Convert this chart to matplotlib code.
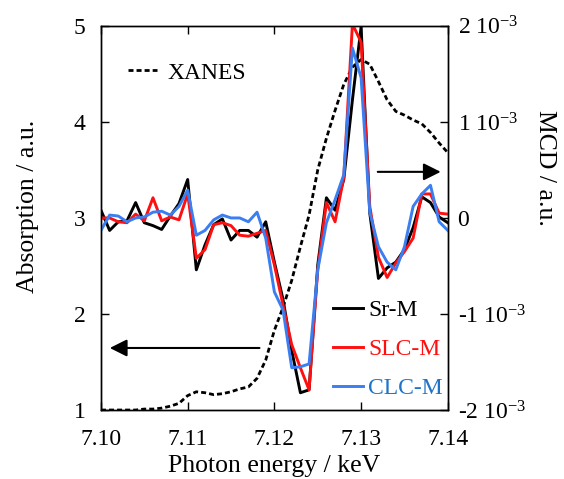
"""XANES and MCD spectra of Sr-M, SLC-M and CLC-M around the K edge."""

import matplotlib

matplotlib.use("Agg")

import matplotlib.pyplot as plt
import numpy as np

plt.rcParams["font.family"] = ["Liberation Serif", "DejaVu Serif"]
plt.rcParams["mathtext.fontset"] = "custom"
plt.rcParams["mathtext.rm"] = "Liberation Serif"
plt.rcParams["mathtext.it"] = "Liberation Serif:italic"

# photon energy, 1 eV steps (keV)
energy = np.round(np.arange(7.100, 7.1405, 0.001), 3)

# XANES absorption (a.u.)
xanes = [1.00, 1.00, 1.00, 1.00, 1.00, 1.01, 1.01, 1.02, 1.04, 1.07,
         1.15, 1.19, 1.18, 1.16, 1.17, 1.19, 1.22, 1.24, 1.33, 1.52,
         1.83, 2.07, 2.35, 2.70, 3.03, 3.50, 3.83, 4.12, 4.39, 4.57,
         4.65, 4.60, 4.42, 4.23, 4.11, 4.07, 4.02, 3.98, 3.89, 3.78, 3.68]

# MCD in units of 1e-3
mcd_sr = [0.08, -0.13, -0.04, -0.03, 0.16, -0.05, -0.08, -0.12, 0.02, 0.15,
          0.40, -0.54, -0.28, -0.07, -0.01, -0.23, -0.13, -0.13, -0.20, -0.04,
          -0.46, -0.85, -1.38, -1.82, -1.79, -0.49, 0.21, 0.08, 0.40, 1.23,
          1.99, 0.05, -0.63, -0.52, -0.46, -0.33, -0.10, 0.22, 0.16, 0.01, -0.05]
mcd_slc = [0.00, 0.00, -0.04, -0.05, 0.04, -0.03, 0.21, -0.03, 0.01, -0.02,
           0.25, -0.42, -0.33, -0.07, -0.05, -0.08, -0.18, -0.19, -0.16, -0.13,
           -0.49, -0.91, -1.32, -1.56, -1.79, -0.54, 0.16, -0.04, 0.42, 2.02,
           1.83, 0.12, -0.41, -0.62, -0.47, -0.35, -0.21, 0.25, 0.25, 0.05, 0.04]
mcd_clc = [-0.13, 0.03, 0.02, -0.04, 0.00, 0.01, 0.06, 0.07, 0.03, 0.12,
           0.29, -0.18, -0.13, -0.02, 0.03, 0.00, 0.00, -0.04, 0.06, -0.21,
           -0.77, -0.96, -1.56, -1.55, -1.52, -0.54, -0.05, 0.19, 0.45, 1.77,
           1.46, 0.06, -0.30, -0.46, -0.54, -0.30, 0.12, 0.25, 0.34, -0.04, -0.13]

RED = "#ff1010"
BLUE = "#3a7ef2"
BLUE_TEXT = "#1f73c8"
FS = 17
FS_LABEL = 18.5


def main() -> None:
    fig = plt.figure(figsize=(5.64, 4.79), dpi=100)
    ax = fig.add_axes([0.179, 0.144, 0.615, 0.802])
    ax2 = ax.twinx()

    ax.plot(energy, xanes, color="black", lw=2, ls=(0, (1.8, 1.1)), label="XANES")
    ax2.plot(energy, mcd_sr, color="black", lw=2.1, label="Sr-M")
    ax2.plot(energy, mcd_slc, color=RED, lw=2.1, label="SLC-M")
    ax2.plot(energy, mcd_clc, color=BLUE, lw=2.1, label="CLC-M")

    ax.set_xlim(7.10, 7.14)
    ax.set_ylim(1, 5)
    ax2.set_ylim(-2, 2)
    ax.set_xticks([7.10, 7.11, 7.12, 7.13, 7.14])
    ax.set_xticklabels(["7.10", "7.11", "7.12", "7.13", "7.14"])
    ax.set_yticks([1, 2, 3, 4, 5])
    ax2.set_yticks([-2, -1, 0, 1, 2])
    ax2.set_yticklabels(["-2 10$^{-3}$", "-1 10$^{-3}$", "0",
                         "1 10$^{-3}$", "2 10$^{-3}$"])

    ax.tick_params(axis="both", direction="in", length=6, width=1,
                   labelsize=FS, top=True)
    ax.tick_params(axis="x", pad=14)
    ax.tick_params(axis="y", right=False, pad=11)
    ax2.tick_params(axis="y", direction="in", length=6, width=1,
                    labelsize=FS, pad=7)
    for a in (ax, ax2):
        for sp in a.spines.values():
            sp.set_linewidth(1)

    ax.set_xlabel("Photon energy / keV", fontsize=FS_LABEL, labelpad=3)
    ax.set_ylabel("Absorption / a.u.", fontsize=FS_LABEL)
    ax.yaxis.set_label_coords(-0.178, 0.53)
    ax2.set_ylabel("MCD / a.u.", fontsize=FS_LABEL, rotation=270, va="center")
    ax2.yaxis.set_label_coords(1.28, 0.63)

    # direction arrows
    arrow = dict(arrowstyle="-|>", color="black", lw=1.5, mutation_scale=26)
    ax.annotate("", xy=(7.1007, 1.646), xytext=(7.1186, 1.646), arrowprops=arrow)
    ax.annotate("", xy=(7.1395, 3.48), xytext=(7.1316, 3.48), arrowprops=arrow)

    leg1 = ax.legend(loc="upper left", bbox_to_anchor=(0.05, 0.93), frameon=False,
                     fontsize=FS, handlelength=1.25, handletextpad=0.45,
                     borderaxespad=0)
    leg1.set_zorder(5)
    leg2 = ax2.legend(loc="lower left", bbox_to_anchor=(0.669, 0.029), frameon=False,
                      fontsize=FS, handlelength=1.25, handletextpad=0.25,
                      labelspacing=0.74, borderpad=0, borderaxespad=0)
    for txt, col in zip(leg2.get_texts(), ["black", RED, BLUE_TEXT]):
        txt.set_color(col)

    fig.savefig("out.png", dpi=100)
    plt.close(fig)


if __name__ == "__main__":
    main()
